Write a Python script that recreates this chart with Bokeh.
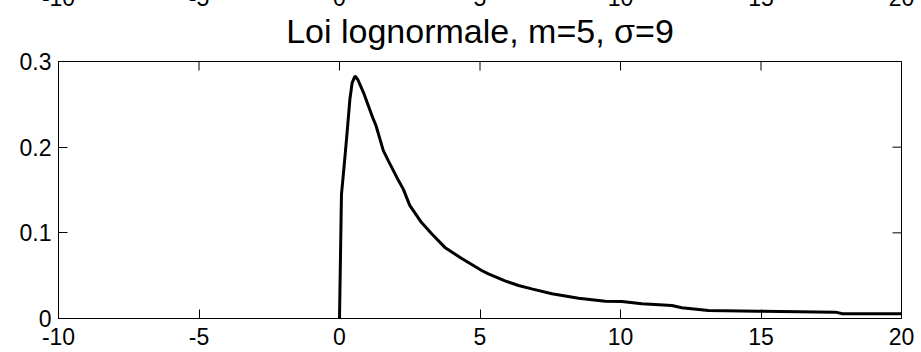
import math
from bokeh.plotting import figure
from bokeh.models import FixedTicker, LinearAxis, Title
from bokeh.embed import file_html
from bokeh.resources import INLINE

# --- data ---
x_vals = [0.0, 0.07, 0.17, 0.27, 0.37, 0.45, 0.55, 0.65, 0.85, 1.2, 1.3, 1.56, 1.74,
          2.1, 2.27, 2.5, 2.92, 3.28, 3.75, 4.35, 5.06, 5.3, 5.89, 6.37, 6.84, 7.56,
          8.51, 9.46, 10.05, 10.76, 11.83, 12.18, 13.13, 14.9, 17.65, 17.9, 20.0]
y_vals = [0.0, 0.145, 0.18, 0.217, 0.256, 0.275, 0.283, 0.279, 0.264, 0.233, 0.225,
          0.196, 0.184, 0.161, 0.151, 0.132, 0.112, 0.099, 0.083, 0.070, 0.056, 0.052,
          0.044, 0.0385, 0.0346, 0.0288, 0.0237, 0.0202, 0.0198, 0.0171, 0.0152,
          0.0125, 0.0093, 0.0085, 0.0074, 0.0055, 0.0055]
x_ticks = [-10, -5, 0, 5, 10, 15, 20]
y_ticks = [0, 0.1, 0.2, 0.3]
title_text = "Loi lognormale, m=5, σ=9"

FONT = "Liberation Sans"
TICK_SIZE = "23px"
X_MIN, X_MAX = x_ticks[0], x_ticks[-1]
Y_MIN, Y_MAX = y_ticks[0], y_ticks[-1]

HIDDEN = 29          # part of the figure pushed above the window top
TOP_BORDER = 61 + HIDDEN

p = figure(width=921, height=352 + HIDDEN, x_range=(X_MIN, X_MAX),
           y_range=(Y_MIN, Y_MAX), output_backend="svg", toolbar_location=None,
           title=None, min_border_left=58, min_border_right=20,
           min_border_bottom=34, min_border_top=TOP_BORDER)
p.margin = (-HIDDEN, 0, 0, 0)
p.background_fill_color = "white"
p.border_fill_color = "white"
p.outline_line_color = "black"
p.outline_line_width = 1
p.outline_line_alpha = 1
p.grid.visible = False

p.add_layout(Title(text=title_text, text_font=FONT, text_font_size="34px",
                   text_font_style="normal", align="center", text_color="black",
                   standoff=24, offset=0), "above")

for ax in (p.xaxis[0], p.yaxis[0]):
    ax.major_tick_in = 9
    ax.major_tick_out = 0
    ax.minor_tick_line_color = None
    ax.major_tick_line_color = "black"
    ax.axis_line_color = "black"
    ax.axis_line_width = 1
    ax.major_label_text_font = FONT
    ax.major_label_text_font_size = TICK_SIZE
    ax.major_label_text_color = "black"

p.xaxis.ticker = FixedTicker(ticks=x_ticks)
p.yaxis.ticker = FixedTicker(ticks=y_ticks)
p.xaxis.major_label_overrides = {t: str(t) for t in x_ticks}
p.xaxis.major_label_standoff = 9
p.yaxis.major_label_standoff = 7

# tick labels of the subplot above, only their lower part shows at the window top
ghost = LinearAxis(ticker=FixedTicker(ticks=x_ticks),
                   major_label_overrides={t: str(t) for t in x_ticks})
ghost.axis_line_color = None
ghost.major_tick_line_color = None
ghost.minor_tick_line_color = None
ghost.major_tick_in = 0
ghost.major_tick_out = 0
ghost.major_label_standoff = -8
ghost.major_label_text_font = FONT
ghost.major_label_text_font_size = TICK_SIZE
ghost.major_label_text_color = "black"
p.add_layout(ghost, "above")

# inward ticks on the top and right sides of the box
p.ray(x=x_ticks, y=[Y_MAX] * len(x_ticks), length=9, length_units="screen",
      angle=-math.pi / 2, line_color="black", line_width=1)
p.ray(x=[X_MAX] * len(y_ticks), y=y_ticks, length=9, length_units="screen",
      angle=math.pi, line_color="black", line_width=1)

p.line(x_vals, y_vals, line_color="black", line_width=3)

open("out.html", "w").write(file_html(p, INLINE))
